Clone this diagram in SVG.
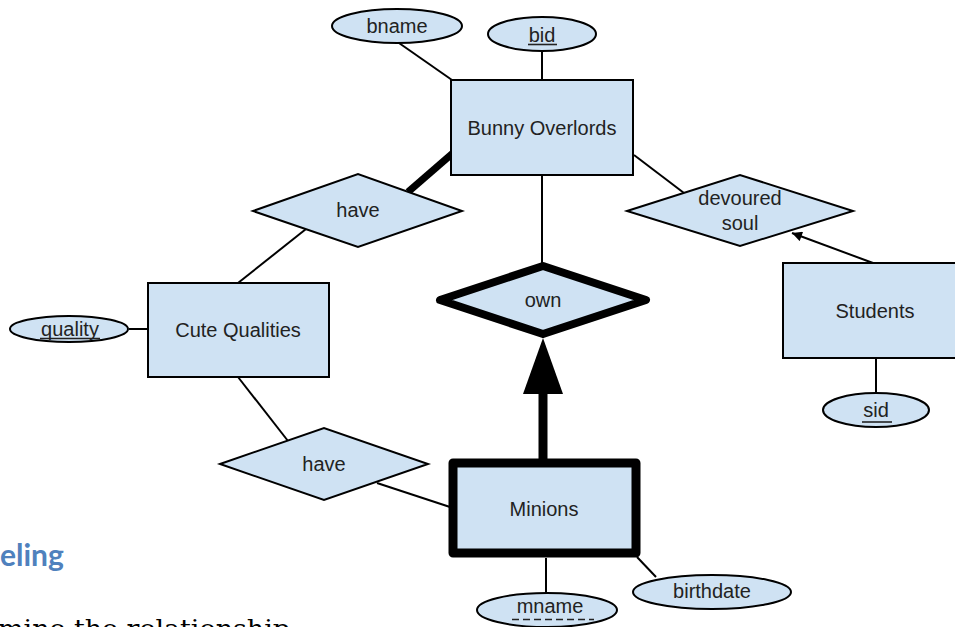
<svg xmlns="http://www.w3.org/2000/svg" width="955" height="627" viewBox="0 0 955 627">
<style>
.ent{fill:#cfe2f3;stroke:#000;stroke-width:2}
.rel{fill:#cfe2f3;stroke:#000;stroke-width:2;stroke-linejoin:miter}
.att{fill:#cfe2f3;stroke:#000;stroke-width:2}
.ln{stroke:#000;stroke-width:2;fill:none}
.t{font-family:"Liberation Sans",Arial,sans-serif;font-size:20px;fill:#222;text-anchor:middle}
.ul{stroke:#222;stroke-width:1.6}
</style>
<defs>
<marker id="ah" viewBox="0 0 10 10" refX="10" refY="5" markerWidth="12" markerHeight="10" markerUnits="userSpaceOnUse" orient="auto">
<path d="M0,0 L10,5 L0,10 z" fill="#000"/>
</marker>
</defs>
<rect width="955" height="627" fill="#fff"/>
<g id="connectors">
<line class="ln" x1="399" y1="43" x2="452" y2="80"/>
<line class="ln" x1="542" y1="51" x2="542" y2="80"/>
<line x1="408" y1="192" x2="453" y2="153" stroke="#000" stroke-width="7"/>
<line class="ln" x1="306" y1="229" x2="238" y2="283"/>
<line class="ln" x1="129" y1="329" x2="148" y2="329"/>
<line class="ln" x1="238" y1="377" x2="288" y2="441"/>
<line class="ln" x1="377" y1="483" x2="450" y2="507"/>
<line class="ln" x1="542" y1="175" x2="542" y2="265"/>
<line x1="543" y1="459" x2="543" y2="390" stroke="#000" stroke-width="9"/>
<polygon points="543,338 523,394 563,394" fill="#000"/>
<line class="ln" x1="634" y1="155" x2="684" y2="193"/>
<line class="ln" x1="873" y1="263" x2="792" y2="233" marker-end="url(#ah)"/>
<line class="ln" x1="876" y1="358" x2="876" y2="393"/>
<line class="ln" x1="546" y1="558" x2="546" y2="593"/>
<line class="ln" x1="637" y1="557" x2="656" y2="577"/>
</g>
<g id="bunny-overlords">
<rect class="ent" x="451" y="80" width="182" height="95"/>
<text class="t" x="542" y="135">Bunny Overlords</text>
</g>
<g id="bname">
<ellipse class="att" cx="397" cy="26" rx="65" ry="17"/>
<text class="t" x="397" y="33">bname</text>
</g>
<g id="bid">
<ellipse class="att" cx="542" cy="34" rx="54" ry="17"/>
<text class="t" x="542" y="42">bid</text>
<line class="ul" x1="528" y1="44.5" x2="557" y2="44.5"/>
</g>
<g id="have-top">
<polygon class="rel" points="253,211 358,174 462,211 358,247"/>
<text class="t" x="358" y="217">have</text>
</g>
<g id="cute-qualities">
<rect class="ent" x="148" y="283" width="181" height="94"/>
<text class="t" x="238" y="337">Cute Qualities</text>
</g>
<g id="quality">
<ellipse class="att" cx="69" cy="329" rx="59" ry="13"/>
<text class="t" x="70" y="336">quality</text>
<line class="ul" x1="40" y1="338.5" x2="100" y2="338.5"/>
</g>
<g id="have-bottom">
<polygon class="rel" points="220,464 324,428 428,464 324,500"/>
<text class="t" x="324" y="471">have</text>
</g>
<g id="own">
<polygon points="440,300 543,266 646,300 543,334" fill="#cfe2f3" stroke="#000" stroke-width="8" stroke-linejoin="round"/>
<text class="t" x="543" y="307">own</text>
</g>
<g id="minions">
<rect x="453" y="463" width="183" height="90" fill="#cfe2f3" stroke="#000" stroke-width="9" stroke-linejoin="round"/>
<text class="t" x="544" y="516">Minions</text>
</g>
<g id="mname">
<ellipse class="att" cx="547" cy="610" rx="70" ry="17"/>
<text class="t" x="550" y="613">mname</text>
<line class="ul" x1="512" y1="619.5" x2="594" y2="619.5" stroke-dasharray="7 4"/>
</g>
<g id="birthdate">
<ellipse class="att" cx="712" cy="592" rx="79" ry="17"/>
<text class="t" x="712" y="598">birthdate</text>
</g>
<g id="devoured-soul">
<polygon class="rel" points="627,211 740,175 853,211 740,246"/>
<text class="t" x="740" y="205">devoured</text>
<text class="t" x="740" y="230">soul</text>
</g>
<g id="students">
<rect class="ent" x="783" y="263" width="190" height="95"/>
<text class="t" x="875" y="318">Students</text>
</g>
<g id="sid">
<ellipse class="att" cx="876" cy="410" rx="53" ry="17"/>
<text class="t" x="876" y="417">sid</text>
<line class="ul" x1="862" y1="422" x2="892" y2="422"/>
</g>
<text x="0" y="566" font-family="Lato,'Open Sans',sans-serif" font-weight="bold" font-size="30" fill="#4f81bd">eling</text>
<text x="-2" y="637" font-family="'DejaVu Serif','Liberation Serif',serif" font-size="24" fill="#000" textLength="292" lengthAdjust="spacingAndGlyphs">mine the relationship</text>
</svg>
